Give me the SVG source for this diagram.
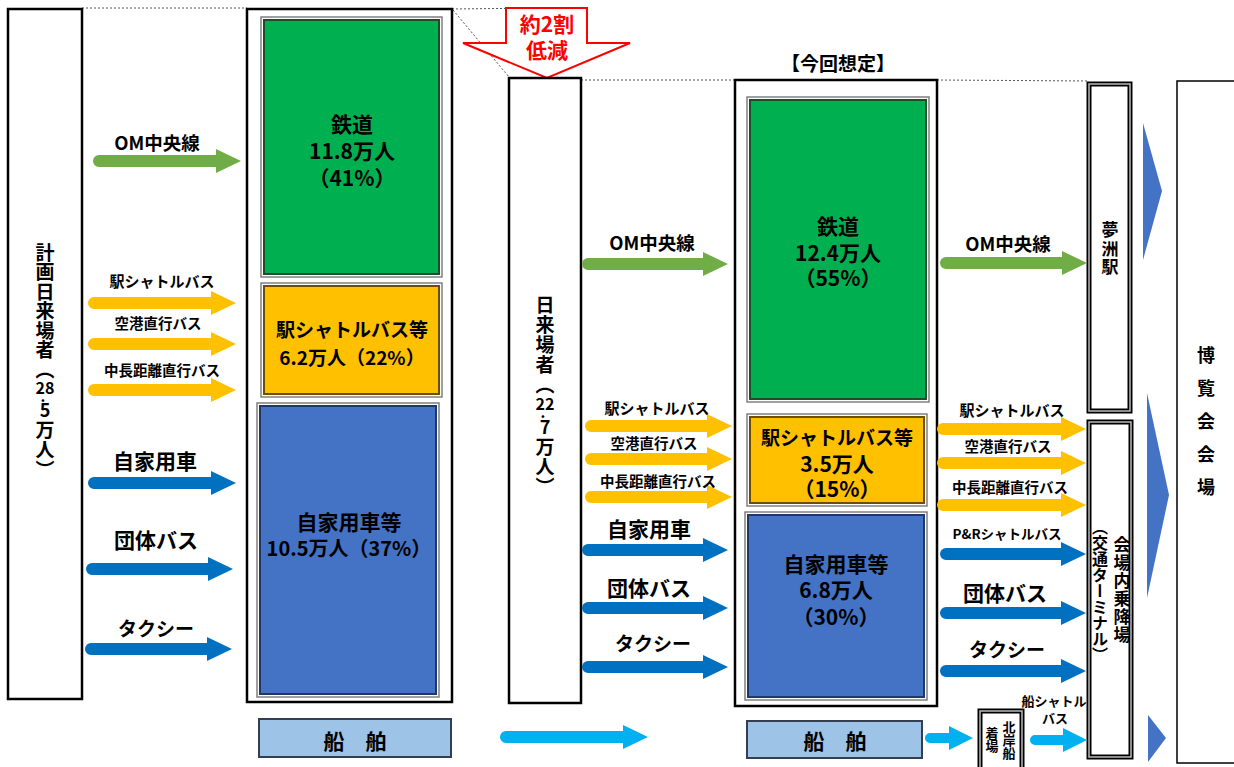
<svg xmlns="http://www.w3.org/2000/svg" width="1234" height="767" viewBox="0 0 1234 767">
<style>
text{font-family:'Noto Sans CJK JP','Noto Sans',sans-serif;font-weight:bold;fill:#000;dominant-baseline:central;text-anchor:middle}
text.v{writing-mode:vertical-rl;text-anchor:start}
.frame{fill:#fff;stroke:#000;stroke-width:2.5}
.dot{stroke:#555;stroke-width:1;stroke-dasharray:2 2;fill:none}
.g{fill:#70AD47}.y{fill:#FFC000}.b{fill:#0070C0}.lb{fill:#00B0F0}
.gbox{fill:#00B050;stroke:#1E4D2B;stroke-width:2}
.ybox{fill:#FFC000;stroke:#6B4E00;stroke-width:2}
.bbox{fill:#4472C4;stroke:#1F3864;stroke-width:2}
.outer{fill:none;stroke:#808080;stroke-width:1.5}
.ship{fill:#9DC3E6;stroke:#333F50;stroke-width:2}
.dbl{fill:#fff;stroke:#000;stroke-width:5}
.dbl2{fill:none;stroke:#bbb;stroke-width:1.5}
.tri{fill:#4472C4}
.red{fill:#FF0000}
.l15{font-size:15px}.l14{font-size:14.5px}.l21{font-size:21px}.l19{font-size:19px}
.bx{font-size:21px}
</style>

<!-- dotted guide lines -->
<g id="guides">
<line class="dot" x1="82" y1="8" x2="247" y2="8"/>
<line class="dot" x1="452" y1="9" x2="545" y2="8"/>
<line class="dot" x1="453" y1="10" x2="509" y2="77"/>
<line class="dot" x1="581" y1="80" x2="735" y2="80"/>
<line class="dot" x1="937" y1="80" x2="1088" y2="81"/>
</g>

<g id="planned-total">
<rect class="frame" x="8" y="9" width="74" height="690"/>
<text class="v" x="45" y="243" font-size="19" letter-spacing="0.5">計画日来場者（</text>
<text font-size="16"><tspan x="45" y="387">28</tspan><tspan x="43" y="395" font-size="15">.</tspan><tspan x="45" y="409" font-size="18">5</tspan></text>
<text class="v" x="45" y="420" font-size="19" letter-spacing="1">万人）</text>
</g>

<g id="planned-breakdown">
<rect class="frame" x="247" y="9" width="205" height="693"/>
<rect class="outer" x="261" y="17" width="181" height="260"/>
<rect class="gbox" x="264" y="20" width="175" height="254"/>
<text class="bx" x="352" y="123">鉄道</text>
<text class="bx" x="352" y="150">11.8万人</text>
<text class="bx" x="352" y="177">（41%）</text>
<rect class="outer" x="261" y="283" width="181" height="114"/>
<rect class="ybox" x="264" y="286" width="175" height="108"/>
<text x="352" y="328" font-size="19">駅シャトルバス等</text>
<text x="352" y="356" font-size="19">6.2万人（22%）</text>
<rect class="outer" x="257" y="403" width="182" height="294"/>
<rect class="bbox" x="260" y="406" width="176" height="288"/>
<text x="349" y="521" font-size="21">自家用車等</text>
<text x="349" y="547" font-size="20">10.5万人（37%）</text>
</g>

<g id="planned-ship">
<rect class="ship" x="259" y="719" width="192" height="38"/>
<text x="355" y="740" font-size="21">船　舶</text>
</g>

<g id="reduction">
<polygon points="506,8 587,8 587,43 630,43 547,78 463,43 506,43" fill="#fff" stroke="#FF0000" stroke-width="2"/>
<text class="red" x="547" y="23" font-size="21">約2割</text>
<text class="red" x="547" y="49" font-size="21">低減</text>
</g>

<g id="current-total">
<rect class="frame" x="509" y="78" width="72" height="625"/>
<text class="v" x="545" y="295.5" font-size="19" letter-spacing="1">日来場者（</text>
<text font-size="16"><tspan x="545" y="403">22</tspan><tspan x="543" y="411" font-size="15">.</tspan><tspan x="545" y="426" font-size="18">7</tspan></text>
<text class="v" x="545" y="437.5" font-size="19" letter-spacing="1">万人）</text>
</g>

<g id="current-breakdown">
<text x="838" y="62" font-size="19">【今回想定】</text>
<rect class="frame" x="735" y="80" width="202" height="626"/>
<rect class="outer" x="747" y="97" width="182" height="305"/>
<rect class="gbox" x="750" y="100" width="176" height="299"/>
<text class="bx" x="838" y="225">鉄道</text>
<text class="bx" x="838" y="252">12.4万人</text>
<text class="bx" x="838" y="277">（55%）</text>
<rect class="outer" x="747" y="414" width="180" height="92"/>
<rect class="ybox" x="750" y="417" width="174" height="86"/>
<text x="837" y="436" font-size="19">駅シャトルバス等</text>
<text x="837" y="463" font-size="21">3.5万人</text>
<text x="837" y="488" font-size="21">（15%）</text>
<rect class="outer" x="745" y="512" width="182" height="188"/>
<rect class="bbox" x="748" y="515" width="176" height="182"/>
<text x="836" y="563" font-size="21">自家用車等</text>
<text x="836" y="589" font-size="21">6.8万人</text>
<text x="836" y="616" font-size="21">（30%）</text>
</g>

<g id="current-ship">
<rect class="ship" x="747" y="721" width="175" height="37"/>
<text x="835" y="740" font-size="21">船　舶</text>
</g>

<g id="yumeshima-station">
<rect class="dbl" x="1089" y="84" width="41" height="327"/>
<rect class="dbl2" x="1089" y="84" width="41" height="327"/>
<text class="v" x="1110" y="221.5" font-size="17" letter-spacing="1.5">夢洲駅</text>
</g>

<g id="terminal">
<rect class="dbl" x="1089" y="422" width="42" height="335"/>
<rect class="dbl2" x="1089" y="422" width="42" height="335"/>
<text class="v" x="1122" y="536.5" font-size="17" letter-spacing="1">会場内乗降場</text>
<text class="v" x="1100" y="519" font-size="16">（交通ターミナル）</text>
</g>

<g id="north-pier">
<rect class="dbl" x="980" y="711" width="42" height="62"/>
<rect class="dbl2" x="980" y="711" width="42" height="62"/>
<text class="v" x="1009" y="720.5" font-size="13">北岸船</text>
<text class="v" x="992" y="726.5" font-size="13">着場</text>
</g>

<g id="expo-venue">
<rect x="1177" y="81" width="70" height="682" fill="#fff" stroke="#000" stroke-width="1.5"/>
<text class="v" x="1206" y="346" font-size="18" letter-spacing="15">博覧会会場</text>
</g>

<g id="connectors">
<!-- left column -->
<path class="g" d="M99,155 H216 V149 L241,161 L216,173 V167 H99 A6 6 0 0 1 99,155Z"/>
<path class="y" d="M94,297 H211 V291 L236,303 L211,315 V309 H94 A6 6 0 0 1 94,297Z"/>
<path class="y" d="M94,338 H211 V332 L236,344 L211,356 V350 H94 A6 6 0 0 1 94,338Z"/>
<path class="y" d="M94,384 H211 V378 L236,390 L211,402 V396 H94 A6 6 0 0 1 94,384Z"/>
<path class="b" d="M94,477 H211 V471 L236,483 L211,495 V489 H94 A6 6 0 0 1 94,477Z"/>
<path class="b" d="M92,563 H208 V557 L233,569 L208,581 V575 H92 A6 6 0 0 1 92,563Z"/>
<path class="b" d="M91,643 H207 V637 L232,649 L207,661 V655 H91 A6 6 0 0 1 91,643Z"/>
<!-- middle column -->
<path class="g" d="M588,258 H703 V252 L728,264 L703,276 V270 H588 A6 6 0 0 1 588,258Z"/>
<path class="y" d="M591,420 H707 V414 L732,426 L707,438 V432 H591 A6 6 0 0 1 591,420Z"/>
<path class="y" d="M591,453 H707 V447 L732,459 L707,471 V465 H591 A6 6 0 0 1 591,453Z"/>
<path class="y" d="M591,491 H707 V485 L732,497 L707,509 V503 H591 A6 6 0 0 1 591,491Z"/>
<path class="b" d="M588,544 H703 V538 L728,550 L703,562 V556 H588 A6 6 0 0 1 588,544Z"/>
<path class="b" d="M588,602 H703 V596 L728,608 L703,620 V614 H588 A6 6 0 0 1 588,602Z"/>
<path class="b" d="M588,661 H703 V655 L728,667 L703,679 V673 H588 A6 6 0 0 1 588,661Z"/>
<path class="lb" d="M506,731 H623 V725 L648,737 L623,749 V743 H506 A6 6 0 0 1 506,731Z"/>
<!-- right column -->
<path class="g" d="M946,257 H1062 V251 L1087,263 L1062,275 V269 H946 A6 6 0 0 1 946,257Z"/>
<path class="y" d="M943,423 H1061 V417 L1086,429 L1061,441 V435 H943 A6 6 0 0 1 943,423Z"/>
<path class="y" d="M943,457 H1061 V451 L1086,463 L1061,475 V469 H943 A6 6 0 0 1 943,457Z"/>
<path class="y" d="M943,499 H1061 V493 L1086,505 L1061,517 V511 H943 A6 6 0 0 1 943,499Z"/>
<path class="b" d="M946,548 H1061 V542 L1086,554 L1061,566 V560 H946 A6 6 0 0 1 946,548Z"/>
<path class="b" d="M946,607 H1061 V601 L1086,613 L1061,625 V619 H946 A6 6 0 0 1 946,607Z"/>
<path class="b" d="M946,665 H1061 V659 L1086,671 L1061,683 V677 H946 A6 6 0 0 1 946,665Z"/>
<path class="lb" d="M930,733 H949 V726 L973,738 L949,750 V743 H930 A5 5 0 0 1 930,733Z"/>
<path class="lb" d="M1035,735 H1063 V728 L1087,740 L1063,752 V745 H1035 A5 5 0 0 1 1035,735Z"/>
<!-- into venue -->
<polygon class="tri" points="1143,123 1162,191 1143,260"/>
<polygon class="tri" points="1147,393 1169,495 1147,598"/>
<polygon class="tri" points="1148,715 1166,738 1148,762"/>
</g>

<g id="connector-labels">
<text x="157" y="142" font-size="18.5">OM中央線</text>
<text class="l15" x="162" y="280">駅シャトルバス</text>
<text class="l14" x="158" y="322">空港直行バス</text>
<text class="l14" x="162" y="369">中長距離直行バス</text>
<text class="l21" x="155" y="460">自家用車</text>
<text class="l21" x="156" y="539">団体バス</text>
<text class="l19" x="156" y="627">タクシー</text>

<text x="652" y="242" font-size="18.5">OM中央線</text>
<text class="l15" x="657" y="407">駅シャトルバス</text>
<text class="l14" x="654" y="442">空港直行バス</text>
<text class="l14" x="658" y="480">中長距離直行バス</text>
<text class="l21" x="649" y="528">自家用車</text>
<text class="l21" x="649" y="587">団体バス</text>
<text class="l19" x="653" y="642">タクシー</text>

<text x="1008" y="243" font-size="18.5">OM中央線</text>
<text class="l15" x="1012" y="409">駅シャトルバス</text>
<text class="l14" x="1008" y="445">空港直行バス</text>
<text class="l14" x="1010" y="486">中長距離直行バス</text>
<text x="1007" y="533" font-size="13.5">P&amp;Rシャトルバス</text>
<text class="l21" x="1005" y="592">団体バス</text>
<text class="l19" x="1007" y="648">タクシー</text>
<text x="1054" y="700" font-size="13">船シャトル</text>
<text x="1055" y="717" font-size="13">バス</text>
</g>
</svg>
